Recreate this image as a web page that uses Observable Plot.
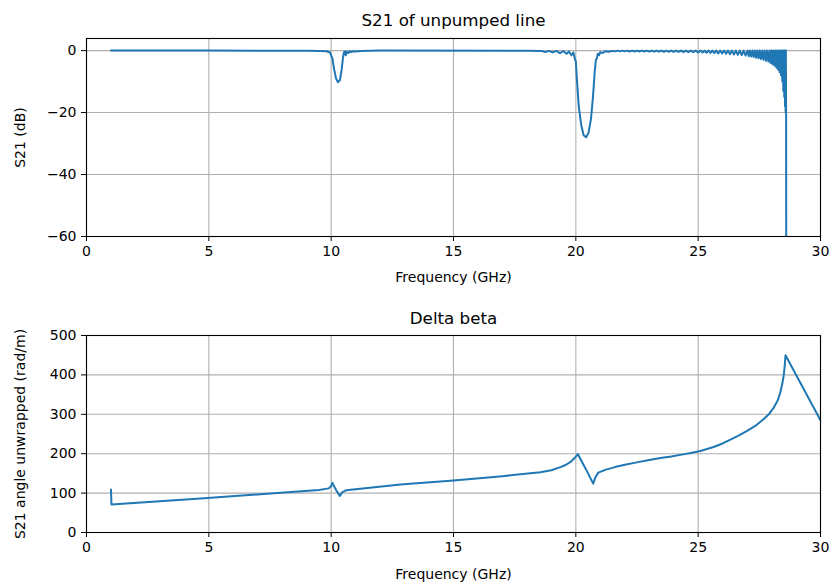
<!DOCTYPE html>
<html>
<head>
<meta charset="utf-8">
<script src="https://cdn.jsdelivr.net/npm/d3@7"></script>
<script src="https://cdn.jsdelivr.net/npm/@observablehq/plot@0.6"></script>
<style>
  html, body { margin: 0; padding: 0; background: white; }
  #chart svg { display: block; }
</style>
</head>
<body>
<div id="chart"></div>
<script>
// ---- Top panel: S21 of unpumped line ----
const s21Freq = [
  1.0, 5.0, 9.0, 9.5, 9.8, 9.95, 10.05, 10.12, 10.2, 10.28, 10.36, 10.43, 10.48, 10.52, 10.56, 10.6, 10.64, 10.7, 10.76, 10.82, 10.9, 11.0, 11.2, 12.0,
  18.0, 18.6, 18.75, 18.9, 19.05, 19.2, 19.35, 19.5, 19.62, 19.72, 19.82, 19.9, 19.97, 20.0,
  20.05, 20.12, 20.22, 20.32, 20.42, 20.52, 20.62, 20.7, 20.77, 20.82, 20.86, 20.9, 20.95, 21.0, 21.1, 21.2, 21.35, 21.5,
  21.6, 21.7, 21.8, 21.9, 22.0, 22.1, 22.2, 22.3, 22.4, 22.5, 22.6, 22.7, 22.8, 22.9, 23.0, 23.1, 23.2, 23.3, 23.4, 23.5,
  23.6, 23.7, 23.8, 23.9, 24.0, 24.1, 24.2, 24.3, 24.4, 24.5, 24.6, 24.7, 24.8, 24.9, 25.0, 25.1,
  25.18, 25.26, 25.34, 25.42, 25.5, 25.58, 25.66, 25.74, 25.82, 25.9, 25.98, 26.06, 26.14, 26.22, 26.3, 26.38,
  26.46, 26.54, 26.62, 26.7, 26.78, 26.86, 26.94, 27.02,
  27.07, 27.12, 27.17, 27.22, 27.27, 27.32, 27.37, 27.42, 27.47, 27.52, 27.57, 27.62, 27.67, 27.72, 27.77, 27.82,
  27.87, 27.92, 27.96, 28.0, 28.04, 28.08, 28.12, 28.16, 28.2, 28.24, 28.27, 28.3, 28.33, 28.36, 28.39, 28.42,
  28.44, 28.46, 28.48, 28.5, 28.52, 28.53, 28.55, 28.56, 28.575, 28.585, 28.595, 28.6
];
const s21Db = [
  0, 0, -0.05, -0.1, -0.2, -0.6, -2.5, -6, -9, -10.2, -9.5, -6, -2.5, -0.6, -0.3, -1.5, -0.4, -0.8, -0.2, -0.5, -0.2, -0.3, -0.1, 0,
  -0.05, -0.1, -0.5, -0.1, -0.6, -0.1, -0.8, -0.2, -1.0, -0.3, -1.5, -0.6, -3, -3.5,
  -10, -18, -24, -27.3, -28, -26.5, -22, -15, -7, -3, -2.5, -1, -1.5, -0.5, -0.8, -0.2, -0.4, -0.1,
  -0.25, 0, -0.25, 0, -0.25, 0, -0.3, 0, -0.3, 0, -0.3, 0, -0.3, 0, -0.35, 0, -0.35, 0, -0.35, 0,
  -0.4, 0, -0.4, 0, -0.45, 0, -0.45, 0, -0.5, 0, -0.5, 0, -0.55, 0, -0.6, 0,
  -0.65, 0, -0.7, 0, -0.75, 0, -0.8, 0, -0.9, 0, -0.95, 0, -1.05, 0, -1.15, 0,
  -1.25, 0, -1.35, 0, -1.5, 0, -1.6, 0,
  -1.8, 0, -1.95, 0, -2.1, 0, -2.3, 0, -2.5, 0, -2.75, 0, -3.0, 0, -3.3, 0,
  -3.6, 0, -4.0, 0, -4.4, 0, -4.9, 0, -5.5, 0, -6.2, 0, -7.0, 0, -8.0, 0,
  -10, 0, -13, 0, -15, 0, -18, 0, -20, 0, -24, -70
];
const s21Ticks = [-60, -40, -20, 0];

// ---- Bottom panel: Delta beta ----
const betaFreq = [
  1.0, 1.02, 4.66, 7.93, 9.5, 9.9, 10.0, 10.05, 10.2, 10.35, 10.45, 10.6, 11.0, 12.83, 15.0, 17.0, 18.55,
  19.0, 19.37, 19.6, 19.8, 19.95, 20.08, 20.4, 20.71, 20.8, 20.92, 21.2, 21.6, 22.0, 22.5, 23.0, 23.46, 23.9, 24.27,
  24.7, 25.09, 25.63, 26.0, 26.3, 26.65, 27.0, 27.35, 27.68, 27.9, 28.09, 28.25, 28.36, 28.44, 28.5, 28.54, 28.57, 30.0
];
const betaVal = [
  109, 71, 86, 101, 108, 112, 118, 126, 108, 93, 102, 107, 110, 122, 132, 143, 153,
  158, 166, 172, 180, 189, 199, 162, 124, 140, 152, 159, 166, 172, 178, 184, 189, 193, 197,
  202, 207, 217, 226, 235, 246, 258, 271, 288, 301, 317, 335, 356, 378, 400, 425, 450, 285
];
const betaTicks = [0, 100, 200, 300, 400, 500];

const xTicks = [0, 5, 10, 15, 20, 25, 30];
const xLabel = "Frequency (GHz)";

const s21Data = s21Freq.map((f, i) => ({f, v: s21Db[i]}));
const betaData = betaFreq.map((f, i) => ({f, v: betaVal[i]}));

const fmt = d => d < 0 ? "\u2212" + Math.abs(d) : String(d);

function panel({data, yDomain, yTicks, title, ylabel, height, marginTop, marginBottom, titleDy, xlabelDy}) {
  return Plot.plot({
    width: 833,
    height,
    marginLeft: 86,
    marginRight: 13,
    marginTop,
    marginBottom,
    style: {fontFamily: "DejaVu Sans", fontSize: "14px", background: "white", color: "black", overflow: "visible"},
    x: {domain: [0, 30]},
    y: {domain: yDomain},
    marks: [
      Plot.gridX(xTicks, {stroke: "#b0b0b0", strokeOpacity: 1, strokeWidth: 1.1}),
      Plot.gridY(yTicks, {stroke: "#b0b0b0", strokeOpacity: 1, strokeWidth: 1.1}),
      Plot.line(data, {x: "f", y: "v", stroke: "#1f77b4", strokeWidth: 2, clip: true}),
      Plot.frame({stroke: "black", strokeWidth: 1.1}),
      Plot.axisX(xTicks, {tickSize: 5, tickPadding: 5, label: null, fontSize: 14, tickFormat: fmt}),
      Plot.axisY(yTicks, {tickSize: 5, tickPadding: 5, label: null, fontSize: 14, tickFormat: fmt}),
      Plot.text([title], {frameAnchor: "top", textAnchor: "middle", lineAnchor: "middle", dy: titleDy, fontSize: 16.7}),
      Plot.text([xLabel], {frameAnchor: "bottom", textAnchor: "middle", lineAnchor: "middle", dy: xlabelDy, fontSize: 14}),
      Plot.text([ylabel], {frameAnchor: "left", textAnchor: "middle", lineAnchor: "middle", rotate: -90, dx: -66, fontSize: 14})
    ]
  });
}

const topPanel = panel({
  data: s21Data, yDomain: [-60, 3.9], yTicks: s21Ticks,
  title: "S21 of unpumped line", ylabel: "S21 (dB)",
  height: 291, marginTop: 38, marginBottom: 55, titleDy: -18, xlabelDy: 41
});
const bottomPanel = panel({
  data: betaData, yDomain: [0, 500], yTicks: betaTicks,
  title: "Delta beta", ylabel: "S21 angle unwrapped (rad/m)",
  height: 292, marginTop: 44, marginBottom: 51, titleDy: -17, xlabelDy: 42
});
document.getElementById("chart").append(topPanel, bottomPanel);
</script>
</body>
</html>
